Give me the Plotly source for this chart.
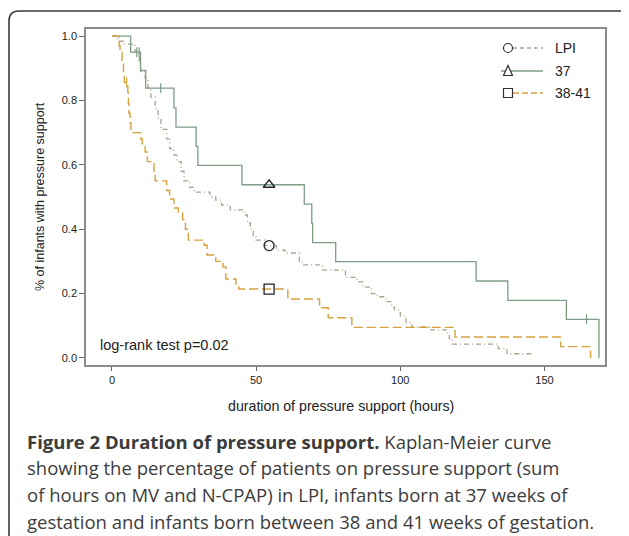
import plotly.graph_objects as go

# ---------------- data ----------------
lpi_t = [0, 2, 4, 8, 9.5, 10, 11.5, 12.5, 13.5, 15, 16, 17, 19, 20, 21.5, 22.5, 24, 25, 27,
         28.5, 34, 36, 38, 41, 46, 47, 48, 49, 50, 53, 57, 60, 65, 66, 73, 81, 85, 87, 90,
         92, 95, 97, 98, 100, 102, 104, 110, 116, 117, 118, 134, 137, 146]
lpi_s = [1.0, 0.984, 0.975, 0.95, 0.92, 0.89, 0.87, 0.84, 0.81, 0.775, 0.745, 0.71, 0.68,
         0.65, 0.63, 0.61, 0.58, 0.55, 0.53, 0.515, 0.50, 0.49, 0.475, 0.46, 0.444, 0.42,
         0.40, 0.38, 0.366, 0.349, 0.335, 0.326, 0.30, 0.289, 0.273, 0.25, 0.236, 0.22,
         0.20, 0.19, 0.175, 0.158, 0.149, 0.13, 0.11, 0.096, 0.087, 0.078, 0.06, 0.043,
         0.029, 0.013, 0.013]

g37_t = [0, 6.5, 9.9, 11.7, 21.5, 22.2, 29.2, 29.8, 45.1, 66.7, 69.3, 69.6, 77.6, 126.3,
         137.3, 157.6, 168.9]
g37_s = [1.0, 0.95, 0.893, 0.838, 0.777, 0.717, 0.657, 0.598, 0.538, 0.478, 0.418, 0.358,
         0.299, 0.239, 0.179, 0.120, 0.0]
g37_cens_t = [8.6, 9.4, 16.9, 164.6]
g37_cens_s = [0.95, 0.95, 0.838, 0.120]

t3841_t = [0, 2.5, 2.8, 3.5, 4.0, 4.3, 5.5, 5.7, 5.9, 6.3, 6.6, 10, 10.5, 11.5, 12.3, 14.6,
           15, 19, 20, 21.5, 23, 24.5, 25.5, 26.5, 32, 33, 36, 38.5, 39.5, 43, 44, 61, 72,
           75, 83.2, 119, 155.6, 166]
t3841_s = [1.0, 0.97, 0.95, 0.92, 0.88, 0.856, 0.825, 0.79, 0.76, 0.73, 0.70, 0.68, 0.665,
           0.64, 0.61, 0.58, 0.55, 0.52, 0.494, 0.466, 0.45, 0.43, 0.40, 0.366, 0.35, 0.32,
           0.30, 0.283, 0.245, 0.23, 0.214, 0.183, 0.156, 0.125, 0.095, 0.065, 0.035, 0.0]
t3841_cens_t = [5.1]
t3841_cens_s = [0.856]

label_t = 54.5
label_s = {"LPI": 0.349, "37": 0.538, "38-41": 0.214}

x_ticks = [0, 50, 100, 150]
y_ticks = [0.0, 0.2, 0.4, 0.6, 0.8, 1.0]

C_LPI = "#a9a58d"
C_37 = "#7f9d86"
C_3841 = "#d6a23c"

# ---------------- figure ----------------
# the page body has an 8px margin, so the figure origin sits at page (8, 8)
OFF = 8
PW, PH = 629, 536                 # page size
W, H = PW - OFF, PH - OFF         # figure size
L, R, T, B = 86, 605, 29, 365     # plot box in page pixels


def px(x):
    return (x - L) / (R - L)


def py(y):
    return (B - y) / (B - T)


fig = go.Figure()

fig.add_trace(go.Scatter(x=lpi_t, y=lpi_s, mode="lines", line_shape="hv",
                         line=dict(color=C_LPI, width=1.3, dash="5px,3px,1px,3px"),
                         showlegend=False, hoverinfo="skip"))
fig.add_trace(go.Scatter(x=g37_t, y=g37_s, mode="lines", line_shape="hv",
                         line=dict(color=C_37, width=1.3), showlegend=False))
fig.add_trace(go.Scatter(x=t3841_t, y=t3841_s, mode="lines", line_shape="hv",
                         line=dict(color=C_3841, width=1.4, dash="9px,4px"),
                         showlegend=False))
# censor ticks
fig.add_trace(go.Scatter(x=g37_cens_t, y=g37_cens_s, mode="markers",
                         marker=dict(symbol="line-ns", size=7, line=dict(color=C_37, width=1.2)),
                         showlegend=False))
fig.add_trace(go.Scatter(x=t3841_cens_t, y=t3841_cens_s, mode="markers",
                         marker=dict(symbol="line-ns", size=7, line=dict(color=C_3841, width=1.2)),
                         showlegend=False))
# group markers
for name, sym in [("LPI", "circle-open"), ("37", "triangle-up-open"), ("38-41", "square-open")]:
    fig.add_trace(go.Scatter(x=[label_t], y=[label_s[name]], mode="markers",
                             marker=dict(symbol=sym, size=10, color="#222",
                                         line=dict(color="#222", width=1.3)),
                             showlegend=False))

shapes = []
ann = []

# outer rounded frame
r = 10
fx0, fy0 = 9, 11
shapes.append(dict(type="path", xref="paper", yref="paper",
                   path=f"M {px(fx0)},{py(PH + 10)} L {px(fx0)},{py(fy0 + r)} "
                        f"Q {px(fx0)},{py(fy0)} {px(fx0 + r)},{py(fy0)} L {px(PW + 10)},{py(fy0)}",
                   line=dict(color="#3a3a3a", width=1.6)))

# custom legend
leg_rows = [("LPI", 48, C_LPI, "4px,3px", "circle"),
            ("37", 71, C_37, "solid", "triangle"),
            ("38-41", 93, C_3841, "6px,3px", "square")]
for name, yy, col, dash, mk in leg_rows:
    x_start = 513 if mk != "triangle" else 501
    shapes.append(dict(type="line", xref="paper", yref="paper",
                       x0=px(x_start), x1=px(543), y0=py(yy), y1=py(yy),
                       line=dict(color=col, width=1.3, dash=dash)))
    cx, s = 508, 4.5
    if mk == "circle":
        shapes.append(dict(type="circle", xref="paper", yref="paper",
                           x0=px(cx - s), x1=px(cx + s), y0=py(yy + s), y1=py(yy - s),
                           fillcolor="white", line=dict(color="#333", width=1.2)))
    elif mk == "square":
        shapes.append(dict(type="rect", xref="paper", yref="paper",
                           x0=px(cx - s), x1=px(cx + s), y0=py(yy + s), y1=py(yy - s),
                           fillcolor="white", line=dict(color="#333", width=1.2)))
    else:
        shapes.append(dict(type="path", xref="paper", yref="paper",
                           path=f"M {px(cx - s)},{py(yy + s)} L {px(cx + s)},{py(yy + s)} "
                                f"L {px(cx)},{py(yy - s - 1)} Z",
                           fillcolor="white", line=dict(color="#333", width=1.2)))
    ann.append(dict(text=name, xref="paper", yref="paper", x=px(553), y=py(yy),
                    xanchor="left", yanchor="middle", showarrow=False,
                    font=dict(family="Liberation Sans", size=14, color="#222")))

# log-rank text
ann.append(dict(text="log-rank test p=0.02", xref="paper", yref="paper", x=px(98), y=py(345),
                xanchor="left", yanchor="middle", showarrow=False,
                font=dict(family="Liberation Sans", size=14.5, color="#222")))
# axis titles
ann.append(dict(text="duration of pressure support (hours)", xref="paper", yref="paper",
                x=px(341), y=py(406), xanchor="center", yanchor="middle", showarrow=False,
                font=dict(family="Liberation Sans", size=14.2, color="#222")))
ann.append(dict(text="% of infants with pressure support", xref="paper", yref="paper",
                x=px(40), y=py(197), xanchor="center", yanchor="middle", showarrow=False,
                textangle=-90, font=dict(family="Liberation Sans", size=12.5, color="#222")))

# caption
cap_lines = [
    "<b>Figure 2 Duration of pressure support.</b> Kaplan-Meier curve",
    "showing the percentage of patients on pressure support (sum",
    "of hours on MV and N-CPAP) in LPI, infants born at 37 weeks of",
    "gestation and infants born between 38 and 41 weeks of gestation.",
]
cap_y = [441, 467, 494, 521]
for line, yy in zip(cap_lines, cap_y):
    ann.append(dict(text=line, xref="paper", yref="paper", x=px(25), y=py(yy),
                    xanchor="left", yanchor="middle", showarrow=False,
                    font=dict(family="Open Sans", size=18.5, color="#3c3c3c")))

fig.update_layout(
    width=W, height=H,
    margin=dict(l=L - OFF, r=PW - R, t=T - OFF, b=PH - B, pad=0),
    paper_bgcolor="white", plot_bgcolor="white",
    shapes=shapes, annotations=ann, showlegend=False,
)
fig.update_xaxes(range=[-9, 171], tickvals=x_ticks, ticktext=[str(v) for v in x_ticks],
                 ticks="outside", ticklen=4, tickcolor="#666", showgrid=False, zeroline=False,
                 showline=True, mirror=True, linecolor="#8c8c8c", linewidth=1.5,
                 tickfont=dict(family="Liberation Sans", size=11, color="#222"))
fig.update_yaxes(range=[-0.022, 1.022], tickvals=y_ticks, ticktext=[f"{v:.1f}" for v in y_ticks],
                 ticks="outside", ticklen=5, tickcolor="#666", showgrid=False, zeroline=False,
                 showline=True, mirror=True, linecolor="#8c8c8c", linewidth=1.5,
                 tickfont=dict(family="Liberation Sans", size=11, color="#222"))

fig.write_html("out.html")
